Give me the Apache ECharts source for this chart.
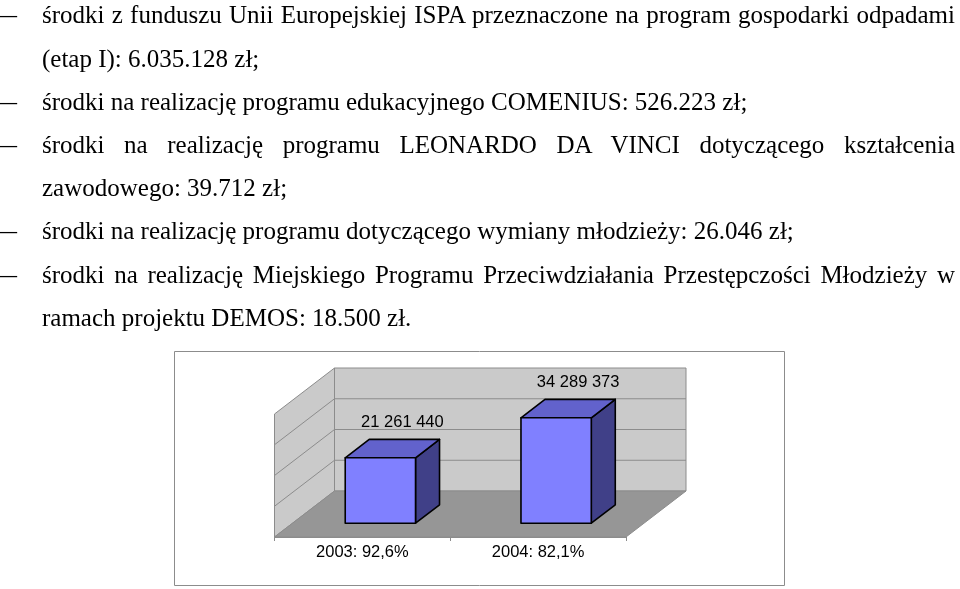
<!DOCTYPE html>
<html lang="pl">
<head>
    <meta charset="UTF-8">
    <title>Środki 2003 - 2004</title>
    <script type="text/javascript" src="https://cdn.jsdelivr.net/npm/echarts@6/dist/echarts.min.js"></script>
    <style>
        html, body {
            width: 100%;
            height: 100%;
            margin: 0;
            padding: 0;
            background: #fff;
            overflow: hidden;
        }
        #main {
            position: absolute;
            left: 0;
            top: 0;
            width: 960px;
            height: 589px;
        }
        .line {
            position: absolute;
            left: 42px;
            width: 913px;
            font-family: "Liberation Serif", "Times New Roman", serif;
            font-size: 25px;
            line-height: 25px;
            white-space: nowrap;
            color: #000;
        }
        .just {
            text-align: justify;
            text-align-last: justify;
        }
        .dash {
            position: absolute;
            left: -50px;
            top: 0;
        }
    </style>
</head>
<body>
    <div id="main"></div>
    <div id="text"></div>
    <script>
        // tekst nad wykresem: [treść, myślnik, wyjustowany]
        var textLines = [
            ['środki z funduszu Unii Europejskiej ISPA przeznaczone na program gospodarki odpadami', true, true],
            ['(etap I): 6.035.128 zł;', false, false],
            ['środki na realizację programu edukacyjnego COMENIUS: 526.223 zł;', true, false],
            ['środki na realizację programu LEONARDO DA VINCI dotyczącego kształcenia', true, true],
            ['zawodowego: 39.712 zł;', false, false],
            ['środki na realizację programu dotyczącego wymiany młodzieży: 26.046 zł;', true, false],
            ['środki na realizację Miejskiego Programu Przeciwdziałania Przestępczości Młodzieży w', true, true],
            ['ramach projektu DEMOS: 18.500 zł.', false, false]
        ];

        // dane wykresu
        var categories = ['2003: 92,6%', '2004: 82,1%'];
        var amounts = [21261440, 34289373];
        var axisMax = 40000000;
        var axisStep = 10000000;

        var box = document.getElementById('text');
        textLines.forEach(function (t, i) {
            var d = document.createElement('div');
            d.className = 'line' + (t[2] ? ' just' : '');
            d.style.top = (2.4 + 43.2 * i) + 'px';
            d.textContent = t[0];
            if (t[1]) {
                var s = document.createElement('span');
                s.className = 'dash';
                s.textContent = '—';
                d.appendChild(s);
            }
            box.appendChild(d);
        });

        var DEPTH = [60, -46];          // głębokość podłogi w px
        var BAR_FRONT = 0.3, BAR_DEPTH = 0.4;

        function fmt(v) {
            return String(v).replace(/\B(?=(\d{3})+(?!\d))/g, ' ');
        }

        function renderWalls(params, api) {
            var cs = params.coordSys;
            var L = cs.x, R = cs.x + cs.width;
            var y0 = api.coord([0, 0])[1];
            var yTop = api.coord([0, axisMax])[1];
            var dx = DEPTH[0], dy = DEPTH[1];
            var wall = { fill: '#cacaca', stroke: '#8c8c8c', lineWidth: 1 };
            var children = [
                { type: 'polygon', shape: { points: [[L, yTop], [L + dx, yTop + dy], [L + dx, y0 + dy], [L, y0]] }, style: wall },
                { type: 'polygon', shape: { points: [[L + dx, yTop + dy], [R + dx, yTop + dy], [R + dx, y0 + dy], [L + dx, y0 + dy]] }, style: wall },
                { type: 'polygon', shape: { points: [[L, y0], [R, y0], [R + dx, y0 + dy], [L + dx, y0 + dy]] }, style: { fill: '#969696', stroke: '#8c8c8c', lineWidth: 1 } }
            ];
            for (var v = axisStep; v < axisMax; v += axisStep) {
                var y = api.coord([0, v])[1];
                children.push({ type: 'line', shape: { x1: L + dx, y1: y + dy, x2: R + dx, y2: y + dy }, style: { stroke: '#8c8c8c', lineWidth: 1 } });
                children.push({ type: 'line', shape: { x1: L, y1: y, x2: L + dx, y2: y + dy }, style: { stroke: '#8c8c8c', lineWidth: 1 } });
            }
            return { type: 'group', children: children };
        }

        function renderBar(params, api) {
            var top = api.coord([api.value(0), api.value(1)]);
            var base = api.coord([api.value(0), 0]);
            var w = api.size([1, 0])[0] * 0.4;
            var fx = DEPTH[0] * BAR_FRONT, fy = DEPTH[1] * BAR_FRONT;
            var bx = DEPTH[0] * BAR_DEPTH, by = DEPTH[1] * BAR_DEPTH;
            var x0 = top[0] - w / 2 + fx, x1 = top[0] + w / 2 + fx;
            var yt = top[1] + fy, yb = base[1] + fy;
            var edge = { stroke: '#000', lineWidth: 1.6, lineJoin: 'round' };
            return {
                type: 'group',
                children: [
                    { type: 'polygon', shape: { points: [[x1, yt], [x1 + bx, yt + by], [x1 + bx, yb + by], [x1, yb]] }, style: Object.assign({ fill: '#404088' }, edge) },
                    { type: 'polygon', shape: { points: [[x0, yt], [x1, yt], [x1 + bx, yt + by], [x0 + bx, yt + by]] }, style: Object.assign({ fill: '#6262cc' }, edge) },
                    { type: 'rect', shape: { x: x0, y: yt, width: x1 - x0, height: yb - yt }, style: Object.assign({ fill: '#8080ff' }, edge) },
                    {
                        type: 'text',
                        x: (x0 + x1) / 2 + bx - 2,
                        y: yt + by - 17,
                        style: {
                            text: fmt(api.value(1)),
                            fill: '#000',
                            fontSize: 16.5,
                            fontFamily: 'Liberation Sans, Arial, sans-serif',
                            align: 'center',
                            verticalAlign: 'middle',
                            textAlign: 'center',
                            textVerticalAlign: 'middle'
                        }
                    }
                ]
            };
        }

        var myChart = echarts.init(document.getElementById('main'));
        var option = {
            backgroundColor: '#fff',
            animation: false,
            graphic: [{
                type: 'rect',
                silent: true,
                shape: { x: 174.5, y: 351.5, width: 610, height: 234 },
                style: { fill: 'none', stroke: '#8c8c8c', lineWidth: 1 }
            }],
            grid: {
                left: 274.5,
                top: 414,
                width: 351.5,
                height: 123,
                outerBoundsMode: 'none'
            },
            xAxis: {
                type: 'category',
                data: categories,
                axisLine: { lineStyle: { color: '#8c8c8c', width: 1 } },
                axisTick: { show: true, length: 4, lineStyle: { color: '#8c8c8c' } },
                axisLabel: {
                    color: '#000',
                    fontSize: 16.5,
                    fontFamily: 'Liberation Sans, Arial, sans-serif',
                    margin: 7
                },
                splitLine: { show: false }
            },
            yAxis: {
                type: 'value',
                min: 0,
                max: axisMax,
                interval: axisStep,
                show: false
            },
            series: [{
                type: 'custom',
                silent: true,
                renderItem: renderWalls,
                data: [[0, 0]],
                z: 1
            }, {
                type: 'custom',
                renderItem: renderBar,
                data: amounts.map(function (v, i) { return [i, v]; }),
                z: 3
            }]
        };
        myChart.setOption(option);

        window.addEventListener('resize', function () {
            myChart.resize();
        });
    </script>
</body>
</html>
